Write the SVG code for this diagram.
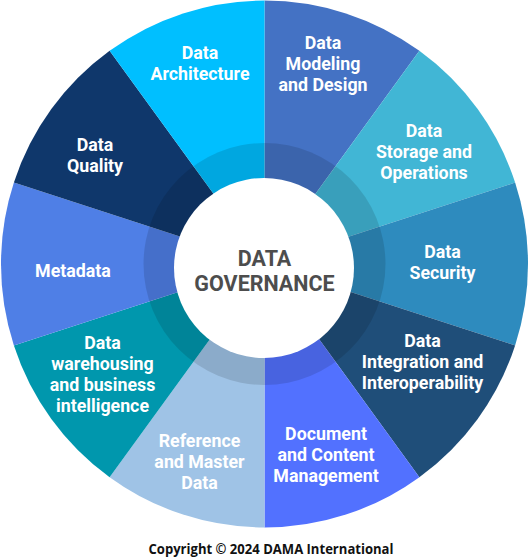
<svg xmlns="http://www.w3.org/2000/svg" width="529" height="560" viewBox="0 0 529 560">
<style>
.lbl{font-family:Roboto,"Liberation Sans",sans-serif;font-weight:700;font-size:17.8px;fill:#fff;text-anchor:middle}
.ctr{font-family:Roboto,"Liberation Sans",sans-serif;font-weight:700;font-size:21.5px;fill:#4d4d4d;text-anchor:middle}
.copy{font-family:"Open Sans",Roboto,"Liberation Sans",sans-serif;font-weight:700;font-size:14px;fill:#111;text-anchor:middle}
</style>
<rect width="529" height="560" fill="#fff"/>
<g id="data-modeling-and-design">
<path d="M264.5 264 L264.5 0.5 A263.5 263.5 0 0 1 419.38 50.83 Z" fill="#4472C4"/>
<text class="lbl" x="323" y="49">Data</text>
<text class="lbl" x="323" y="70">Modeling</text>
<text class="lbl" x="323" y="91">and Design</text>
</g>
<g id="data-storage-and-operations">
<path d="M264.5 264 L419.38 50.83 A263.5 263.5 0 0 1 515.11 182.58 Z" fill="#41B6D5"/>
<text class="lbl" x="424" y="137">Data</text>
<text class="lbl" x="424" y="158">Storage and</text>
<text class="lbl" x="424" y="179">Operations</text>
</g>
<g id="data-security">
<path d="M264.5 264 L515.11 182.58 A263.5 263.5 0 0 1 515.11 345.42 Z" fill="#2E8BBE"/>
<text class="lbl" x="442.5" y="258">Data</text>
<text class="lbl" x="442.5" y="279">Security</text>
</g>
<g id="data-integration-and-interoperability">
<path d="M264.5 264 L515.11 345.42 A263.5 263.5 0 0 1 419.38 477.17 Z" fill="#1F4E79"/>
<text class="lbl" x="422.5" y="346.5">Data</text>
<text class="lbl" x="422.5" y="367.5">Integration and</text>
<text class="lbl" x="422.5" y="388.5">Interoperability</text>
</g>
<g id="document-and-content-management">
<path d="M264.5 264 L419.38 477.17 A263.5 263.5 0 0 1 264.5 527.5 Z" fill="#5271FF"/>
<text class="lbl" x="326" y="440">Document</text>
<text class="lbl" x="326" y="461">and Content</text>
<text class="lbl" x="326" y="482">Management</text>
</g>
<g id="reference-and-master-data">
<path d="M264.5 264 L264.5 527.5 A263.5 263.5 0 0 1 109.62 477.17 Z" fill="#9FC3E6"/>
<text class="lbl" x="199.5" y="446.5">Reference</text>
<text class="lbl" x="199.5" y="467.5">and Master</text>
<text class="lbl" x="199.5" y="488.5">Data</text>
</g>
<g id="data-warehousing-and-business-intelligence">
<path d="M264.5 264 L109.62 477.17 A263.5 263.5 0 0 1 13.89 345.42 Z" fill="#0097AD"/>
<text class="lbl" x="102.5" y="348.5">Data</text>
<text class="lbl" x="102.5" y="369.5">warehousing</text>
<text class="lbl" x="102.5" y="390.5">and business</text>
<text class="lbl" x="102.5" y="411.5">intelligence</text>
</g>
<g id="metadata">
<path d="M264.5 264 L13.89 345.42 A263.5 263.5 0 0 1 13.89 182.58 Z" fill="#4F7FE6"/>
<text class="lbl" x="73" y="276.5">Metadata</text>
</g>
<g id="data-quality">
<path d="M264.5 264 L13.89 182.58 A263.5 263.5 0 0 1 109.62 50.83 Z" fill="#0F376B"/>
<text class="lbl" x="95" y="150.5">Data</text>
<text class="lbl" x="95" y="171.5">Quality</text>
</g>
<g id="data-architecture">
<path d="M264.5 264 L109.62 50.83 A263.5 263.5 0 0 1 264.5 0.5 Z" fill="#00BFFF"/>
<text class="lbl" x="200" y="59">Data</text>
<text class="lbl" x="200" y="80">Architecture</text>
</g>
<g id="data-governance">
<circle cx="264.5" cy="264" r="121" fill="#000" fill-opacity="0.12"/>
<circle cx="264" cy="268" r="90" fill="#fff"/>
<text class="ctr" x="264.5" y="266">DATA</text>
<text class="ctr" x="264.5" y="290.5">GOVERNANCE</text>
</g>
<text class="copy" x="271" y="554" textLength="245" lengthAdjust="spacingAndGlyphs">Copyright © 2024 DAMA International</text>
</svg>
